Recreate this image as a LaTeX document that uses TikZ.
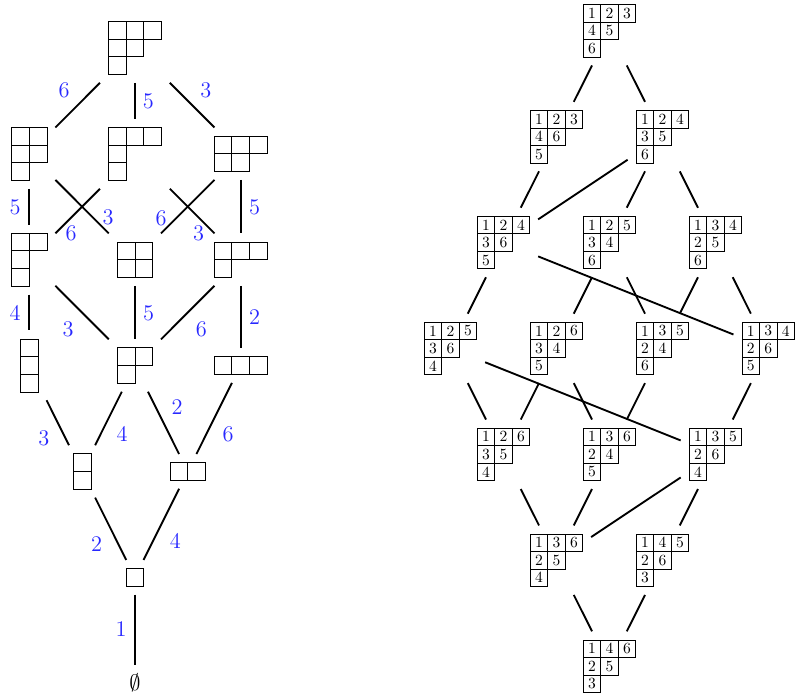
\documentclass[tikz,border=0pt]{standalone}
\usepackage{amssymb}
\definecolor{lblblue}{RGB}{40,40,255}
\def\un{0.644}
\def\csL{17.7}
\def\csR{17.5}
\def\pd{8.5}
\tikzset{
  edge/.style={line width=1.2pt},
  lbl/.style={text=lblblue, font=\Large, inner sep=0pt},
  frame/.style={inner sep=0pt, outer sep=0pt},
  cellL/.style={draw, line width=0.45pt, inner sep=0pt, outer sep=0pt, minimum size=\csL*\un pt},
  cellR/.style={draw, line width=0.45pt, inner sep=0pt, outer sep=0pt, minimum size=\csR*\un pt, font=\normalsize},
}
% Young diagram: name, x, y, ncols, nrows, row lengths
\newcommand{\Ydiag}[6]{%
  \pgfmathsetmacro\ydW{(#4*\csL+2*\pd)*\un}%
  \pgfmathsetmacro\ydH{(#5*\csL+2*\pd)*\un}%
  \node[frame, minimum width=\ydW pt, minimum height=\ydH pt] (#1) at (#2,#3) {};
  \foreach [count=\r] \len in {#6} {
    \foreach \c in {1,...,\len} {
      \node[cellL] (#1-\r-\c) at ({#2-#4*\csL/2+(\c-0.5)*\csL},{#3-#5*\csL/2+(\r-0.5)*\csL}) {};
    }
  }
}
% Standard tableau of shape (3,2,1): name, x, y, rows
\newcommand{\Tab}[4]{%
  \pgfmathsetmacro\ydW{(3*\csR+2*\pd)*\un}%
  \node[frame, minimum width=\ydW pt, minimum height=\ydW pt] (#1) at (#2,#3) {};
  \foreach [count=\r] \row in {#4} {
    \foreach [count=\c] \v in \row {
      \node[cellR] (#1-\r-\c) at ({#2-1.5*\csR+(\c-0.5)*\csR},{#3-1.5*\csR+(\r-0.5)*\csR}) {\v};
    }
  }
}
\begin{document}
\begin{tikzpicture}[x=\un pt, y=-\un pt]
\useasboundingbox (0,0) rectangle (795,696);
% ---------- left: Young's lattice ----------
\Ydiag{P321}{134.9}{47.8}{3}{3}{3,2,1}
\Ydiag{P221}{29.2}{153.7}{2}{3}{2,2,1}
\Ydiag{P311}{134.9}{153.7}{3}{3}{3,1,1}
\Ydiag{P32}{240.6}{153.7}{3}{2}{3,2}
\Ydiag{P211}{29.2}{259.6}{2}{3}{2,1,1}
\Ydiag{P22}{134.9}{259.6}{2}{2}{2,2}
\Ydiag{P31}{240.6}{259.6}{3}{2}{3,1}
\Ydiag{P111}{29.2}{365.5}{1}{3}{1,1,1}
\Ydiag{P21}{134.9}{365.5}{2}{2}{2,1}
\Ydiag{P3}{240.6}{365.5}{3}{1}{3}
\Ydiag{P11}{82.05}{471.4}{1}{2}{1,1}
\Ydiag{P2}{187.75}{471.4}{2}{1}{2}
\Ydiag{P1}{134.9}{577.3}{1}{1}{1}
\node[inner sep=6pt] (P0) at (134.9,683.2) {\Large$\emptyset$};

\draw[edge] (P321) -- (P221);
\draw[edge] (P321) -- (P311);
\draw[edge] (P321) -- (P32);
\draw[edge] (P221) -- (P211);
\draw[edge] (P221) -- (P22);
\draw[edge] (P311) -- (P211);
\draw[edge] (P311) -- (P31);
\draw[edge] (P32) -- (P22);
\draw[edge] (P32) -- (P31);
\draw[edge] (P211) -- (P111);
\draw[edge] (P211) -- (P21);
\draw[edge] (P22) -- (P21);
\draw[edge] (P31) -- (P21);
\draw[edge] (P31) -- (P3);
\draw[edge] (P111) -- (P11);
\draw[edge] (P21) -- (P11);
\draw[edge] (P21) -- (P2);
\draw[edge] (P3) -- (P2);
\draw[edge] (P11) -- (P1);
\draw[edge] (P2) -- (P1);
\draw[edge] (P1) -- (P0);

\node[lbl] (l01) at (64,90) {6};
\node[lbl] (l02) at (148.3,101.7) {5};
\node[lbl] (l03) at (205.8,90) {3};
\node[lbl] (l04) at (15,207) {5};
\node[lbl] (l05) at (108,217) {3};
\node[lbl] (l06) at (71,233) {6};
\node[lbl] (l07) at (161,218) {6};
\node[lbl] (l08) at (198.5,233.5) {3};
\node[lbl] (l09) at (254.5,207.5) {5};
\node[lbl] (l10) at (15,313) {4};
\node[lbl] (l11) at (68,329) {3};
\node[lbl] (l12) at (148.7,313.5) {5};
\node[lbl] (l13) at (201.3,329) {6};
\node[lbl] (l14) at (254.7,317.5) {2};
\node[lbl] (l15) at (43.8,438.7) {3};
\node[lbl] (l16) at (122,434) {4};
\node[lbl] (l17) at (177.2,407.5) {2};
\node[lbl] (l18) at (228,434) {6};
\node[lbl] (l19) at (96.7,544) {2};
\node[lbl] (l20) at (175.3,541) {4};
\node[lbl] (l21) at (121,629.5) {1};

% ---------- right: standard tableaux ----------
\Tab{T1}{609.4}{30.7}{{1,2,3},{4,5},{6}}
\Tab{T2a}{556.4}{136.6}{{1,2,3},{4,6},{5}}
\Tab{T2b}{662.4}{136.6}{{1,2,4},{3,5},{6}}
\Tab{T3a}{503.4}{242.5}{{1,2,4},{3,6},{5}}
\Tab{T3b}{609.4}{242.5}{{1,2,5},{3,4},{6}}
\Tab{T3c}{715.4}{242.5}{{1,3,4},{2,5},{6}}
\Tab{T4a}{450.4}{348.4}{{1,2,5},{3,6},{4}}
\Tab{T4b}{556.4}{348.4}{{1,2,6},{3,4},{5}}
\Tab{T4c}{662.4}{348.4}{{1,3,5},{2,4},{6}}
\Tab{T4d}{768.2}{348.4}{{1,3,4},{2,6},{5}}
\Tab{T5a}{503.4}{454.3}{{1,2,6},{3,5},{4}}
\Tab{T5b}{609.4}{454.3}{{1,3,6},{2,4},{5}}
\Tab{T5c}{715.4}{454.3}{{1,3,5},{2,6},{4}}
\Tab{T6a}{556.4}{560.2}{{1,3,6},{2,5},{4}}
\Tab{T6b}{662.4}{560.2}{{1,4,5},{2,6},{3}}
\Tab{T7}{609.4}{666.1}{{1,4,6},{2,5},{3}}

\draw[edge] (T1) -- (T2a);
\draw[edge] (T1) -- (T2b);
\draw[edge] (T2a) -- (T3a);
\draw[edge] (T2b) -- (T3a);
\draw[edge] (T2b) -- (T3b);
\draw[edge] (T2b) -- (T3c);
\draw[edge] (T3a) -- (T4a);
\draw[edge] (T3a) -- (T4d);
\draw[edge] (T3b) -- (T4b);
\draw[edge] (T3b) -- (T4c);
\draw[edge] (T3c) -- (T4c);
\draw[edge] (T3c) -- (T4d);
\draw[edge] (T4a) -- (T5a);
\draw[edge] (T4a) -- (T5c);
\draw[edge] (T4b) -- (T5a);
\draw[edge] (T4b) -- (T5b);
\draw[edge] (T4c) -- (T5b);
\draw[edge] (T4d) -- (T5c);
\draw[edge] (T5a) -- (T6a);
\draw[edge] (T5b) -- (T6a);
\draw[edge] (T5c) -- (T6a);
\draw[edge] (T5c) -- (T6b);
\draw[edge] (T6a) -- (T7);
\draw[edge] (T6b) -- (T7);
\end{tikzpicture}
\end{document}
